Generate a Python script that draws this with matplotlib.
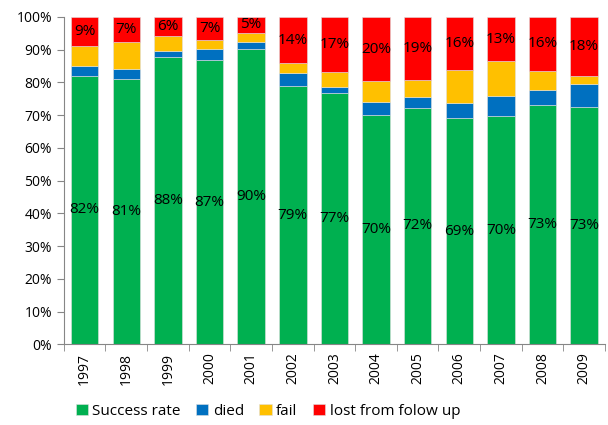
import matplotlib.pyplot as plt
import numpy as np

years = ['1997', '1998', '1999', '2000', '2001', '2002', '2003',
         '2004', '2005', '2006', '2007', '2008', '2009']
success = [82.1, 81.0, 87.7, 86.9, 90.2, 78.8, 76.7, 70.2, 72.3, 69.1, 69.8, 73.1, 72.5]
died = [2.9, 3.1, 1.8, 3.4, 2.2, 4.2, 1.9, 3.9, 3.3, 4.6, 6.1, 4.7, 6.9]
fail = [6.1, 8.3, 4.7, 2.8, 2.8, 2.9, 4.6, 6.2, 5.2, 10.1, 10.6, 5.7, 2.7]
lost = [8.9, 7.6, 5.8, 6.9, 4.8, 14.1, 16.8, 19.7, 19.2, 16.2, 13.5, 16.5, 17.9]
success_labels = ['82%', '81%', '88%', '87%', '90%', '79%', '77%',
                  '70%', '72%', '69%', '70%', '73%', '73%']
lost_labels = ['9%', '7%', '6%', '7%', '5%', '14%', '17%',
               '20%', '19%', '16%', '13%', '16%', '18%']

plt.rcParams['font.family'] = ['Open Sans', 'DejaVu Sans']

fig = plt.figure(figsize=(6.08, 4.25), dpi=100)
ax = fig.add_axes([0.105, 0.19, 0.89, 0.77])

x = np.arange(len(years))
w = 0.66
s = np.array(success)
d = np.array(died)
f = np.array(fail)
l = np.array(lost)
ax.bar(x, s, w, color='#00B050', edgecolor='#e0e0e0', linewidth=0.4, label='Success rate')
ax.bar(x, d, w, bottom=s, color='#0070C0', edgecolor='#e0e0e0', linewidth=0.4, label='died')
ax.bar(x, f, w, bottom=s + d, color='#FFC000', edgecolor='#e0e0e0', linewidth=0.4, label='fail')
ax.bar(x, l, w, bottom=s + d + f, color='#FF0000', edgecolor='#e0e0e0', linewidth=0.4, label='lost from folow up')

for i in range(len(years)):
    ax.text(x[i], s[i] / 2, success_labels[i], ha='center', va='center', fontsize=11)
    ax.text(x[i], 100 - l[i] / 2, lost_labels[i], ha='center', va='center', fontsize=11)

ax.set_xlim(-0.5, len(years) - 0.5)
ax.set_ylim(0, 100)
ax.set_yticks(np.arange(0, 101, 10))
ax.set_yticklabels([f'{v}%' for v in range(0, 101, 10)], fontsize=10)
ax.set_xticks(x)
ax.set_xticklabels(years, rotation=90, fontsize=10)
ax.set_xticks(np.arange(-0.5, len(years), 1), minor=True)
ax.tick_params(axis='x', which='major', length=0, pad=6)
ax.tick_params(axis='x', which='minor', length=5, color='#868686')
ax.tick_params(axis='y', length=5, color='#868686')
for side in ['top', 'right']:
    ax.spines[side].set_visible(False)
for side in ['left', 'bottom']:
    ax.spines[side].set_color('#868686')

ax.legend(loc='center', bbox_to_anchor=(0.377, -0.205), ncol=4, frameon=False,
          fontsize=11, handlelength=0.8, handleheight=0.8, handletextpad=0.3,
          columnspacing=1.0, borderpad=0.1)

fig.savefig('out.png', dpi=100)
